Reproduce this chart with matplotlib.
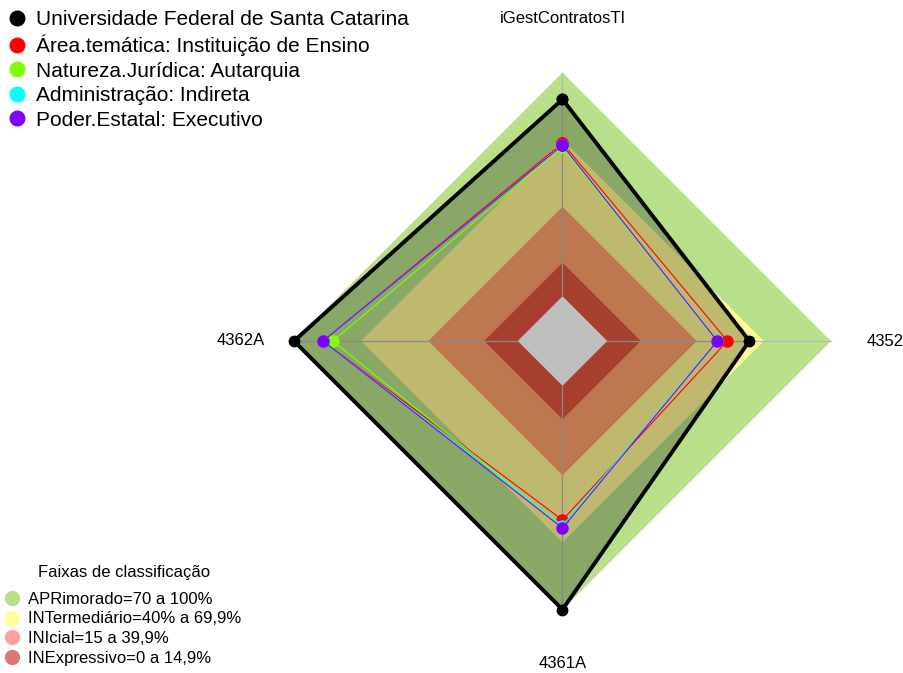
import numpy as np
import matplotlib.pyplot as plt
from matplotlib.lines import Line2D
from matplotlib.patches import Polygon

plt.rcParams['font.family'] = ['Liberation Sans', 'DejaVu Sans']

# axes of the radar, counterclockwise starting at the top
axis_labels = ['iGestContratosTI', '4362A', '4361A', '4352']

series_names = [
    'Universidade Federal de Santa Catarina',
    'Área.temática: Instituição de Ensino',
    'Natureza.Jurídica: Autarquia',
    'Administração: Indireta',
    'Poder.Estatal: Executivo',
]
ufsc = [0.88, 1.00, 1.00, 0.635]
area_tematica = [0.685, 0.87, 0.60, 0.537]
natureza = [0.665, 0.826, 0.63, 0.492]
administracao = [0.675, 0.87, 0.625, 0.492]
poder = [0.675, 0.87, 0.636, 0.492]
series_colors = ['black', '#ff0000', '#80ff00', '#00ffff', '#8000ff']

# classification bands (upper limit of each band)
band_title = 'Faixas de classificação'
band_names = ['APRimorado=70 a 100%', 'INTermediário=40% a 69,9%',
              'INIcial=15 a 39,9%', 'INExpressivo=0 a 14,9%']
band_limits = [1.00, 0.70, 0.40, 0.15]
band_fill = ['#b8e08a', '#fff896', '#ffa06b', '#e05540']
band_legend = ['#b7e08a', '#ffff99', '#ffa0a0', '#dd7777']

seg = 5  # fmsb style: centre gap of 1/(seg+1)
n = len(axis_labels)
theta = np.pi / 2 + np.arange(n) * 2 * np.pi / n


def to_xy(vals):
    frac = 1 / (seg + 1) + np.asarray(vals) * seg / (seg + 1)
    return frac * np.cos(theta), frac * np.sin(theta)


W, H = 904, 673
fig = plt.figure(figsize=(W / 100, H / 100), dpi=100)
ax = fig.add_axes([0, 0, 1, 1])
R = 268.5
ax.set_xlim(-562.5 / R, (W - 562.5) / R)
ax.set_ylim(-(H - 341) / R, 341 / R)
ax.axis('off')

# bands
for lim, col in zip(band_limits, band_fill):
    x, y = to_xy([lim] * n)
    ax.add_patch(Polygon(np.c_[x, y], closed=True, facecolor=col, edgecolor='none', zorder=1))
x, y = to_xy([0] * n)
ax.add_patch(Polygon(np.c_[x, y], closed=True, facecolor='white', edgecolor='none', zorder=2))

# axis spokes
x0, y0 = to_xy([0] * n)
x1, y1 = to_xy([1] * n)
for i in range(n):
    ax.plot([x0[i], x1[i]], [y0[i], y1[i]], color='#b8b8b8', lw=0.9, zorder=3)

# axis labels
lx, ly = 1.2 * np.cos(theta), 1.2 * np.sin(theta)
for i, lab in enumerate(axis_labels):
    ax.text(lx[i], ly[i], lab, ha='center', va='center', fontsize=12)

# UFSC polygon
x, y = to_xy(ufsc)
ax.add_patch(Polygon(np.c_[x, y], closed=True, facecolor='black', alpha=0.25,
                     edgecolor='none', zorder=4))
ax.plot(np.r_[x, x[0]], np.r_[y, y[0]], color='black', lw=2.8, zorder=5,
        marker='o', markersize=7.5, solid_joinstyle='miter')

# other series
others = [area_tematica, natureza, administracao, poder]
for vals, col in zip(others, series_colors[1:]):
    x, y = to_xy(vals)
    ax.plot(np.r_[x, x[0]], np.r_[y, y[0]], color=col, lw=0.8, zorder=6,
            marker='o', markersize=8)

# legends
h1 = [Line2D([], [], ls='none', marker='o', markersize=10.5, color=c) for c in series_colors]
fig.legend(h1, series_names, loc='upper left', bbox_to_anchor=(2 / W, 1 - 6 / H),
           frameon=False, fontsize=15, handlelength=1.0, handletextpad=0.45,
           labelspacing=0.265, borderpad=0.1, borderaxespad=0.1)

h2 = [Line2D([], [], ls='none', marker='o', markersize=10, color=c) for c in band_legend]
fig.legend(h2, band_names, loc='lower left', bbox_to_anchor=(0.0, 4 / H),
           frameon=False, fontsize=12, handlelength=1.0, handletextpad=0.45,
           labelspacing=0.28, borderpad=0.2, borderaxespad=0.0)
fig.text(124 / W, 1 - 572 / H, band_title, ha='center', va='center', fontsize=12)

fig.savefig('out.png', dpi=100)
